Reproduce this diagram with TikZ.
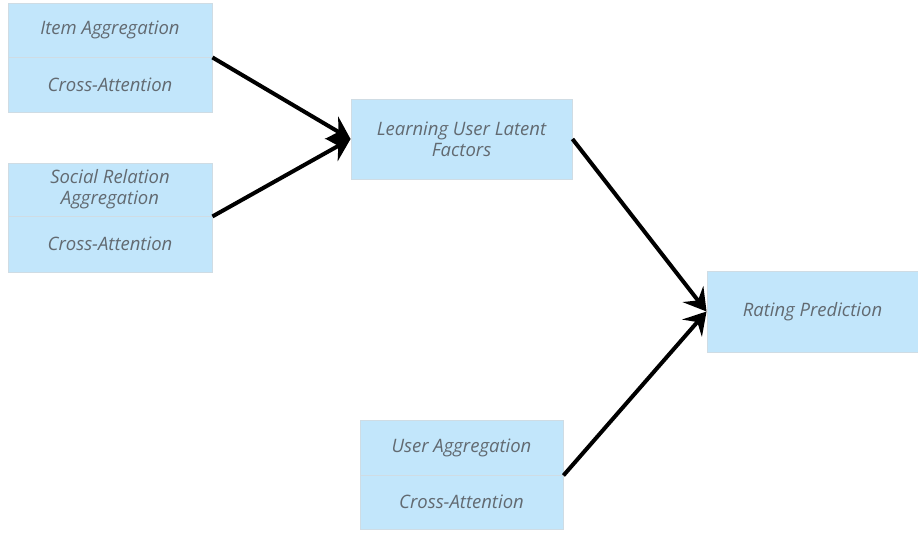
\documentclass[tikz,border=0pt]{standalone}
\usepackage{fontspec}
\setmainfont{Open Sans}
\usetikzlibrary{arrows.meta}
\definecolor{boxfill}{HTML}{C2E6FB}
\definecolor{boxline}{HTML}{CFDCE4}
\definecolor{boxtext}{HTML}{626A71}
\tikzset{
  block/.style={draw=boxline, line width=0.9pt, fill=boxfill, text=boxtext,
    font=\itshape\fontsize{18.5}{21}\selectfont, align=center, inner sep=0pt},
  flow/.style={line width=4pt, -{Stealth[length=22pt, width=26pt, inset=8pt]}}
}
\begin{document}
\begin{tikzpicture}[x=1pt, y=-1pt]
  \useasboundingbox (0,0) rectangle (918,534);
  % left column: item branch
  \node[block, minimum width=204pt, minimum height=54pt] (item) at (110,30) {Item Aggregation};
  \node[block, minimum width=204pt, minimum height=55pt] (itemca) at (110,84.5) {Cross-Attention};
  % left column: social branch
  \node[block, minimum width=204pt, minimum height=53pt] (social) at (110,189.5) {Social Relation\\Aggregation};
  \node[block, minimum width=204pt, minimum height=56pt] (socialca) at (110,244) {Cross-Attention};
  % middle
  \node[block, minimum width=221pt, minimum height=80pt] (latent) at (461.5,139) {Learning User Latent\\Factors};
  \node[block, minimum width=203pt, minimum height=55pt] (user) at (461.5,447.5) {User Aggregation};
  \node[block, minimum width=203pt, minimum height=54pt] (userca) at (461.5,502) {Cross-Attention};
  % output
  \node[block, minimum width=211pt, minimum height=81pt] (rating) at (812.5,311.5) {Rating Prediction};
  % connectors
  \draw[flow] (item.south east) -- (latent.west);
  \draw[flow] (social.south east) -- (latent.west);
  \draw[flow] (latent.east) -- (rating.west);
  \draw[flow] (user.south east) -- (rating.west);
\end{tikzpicture}
\end{document}
